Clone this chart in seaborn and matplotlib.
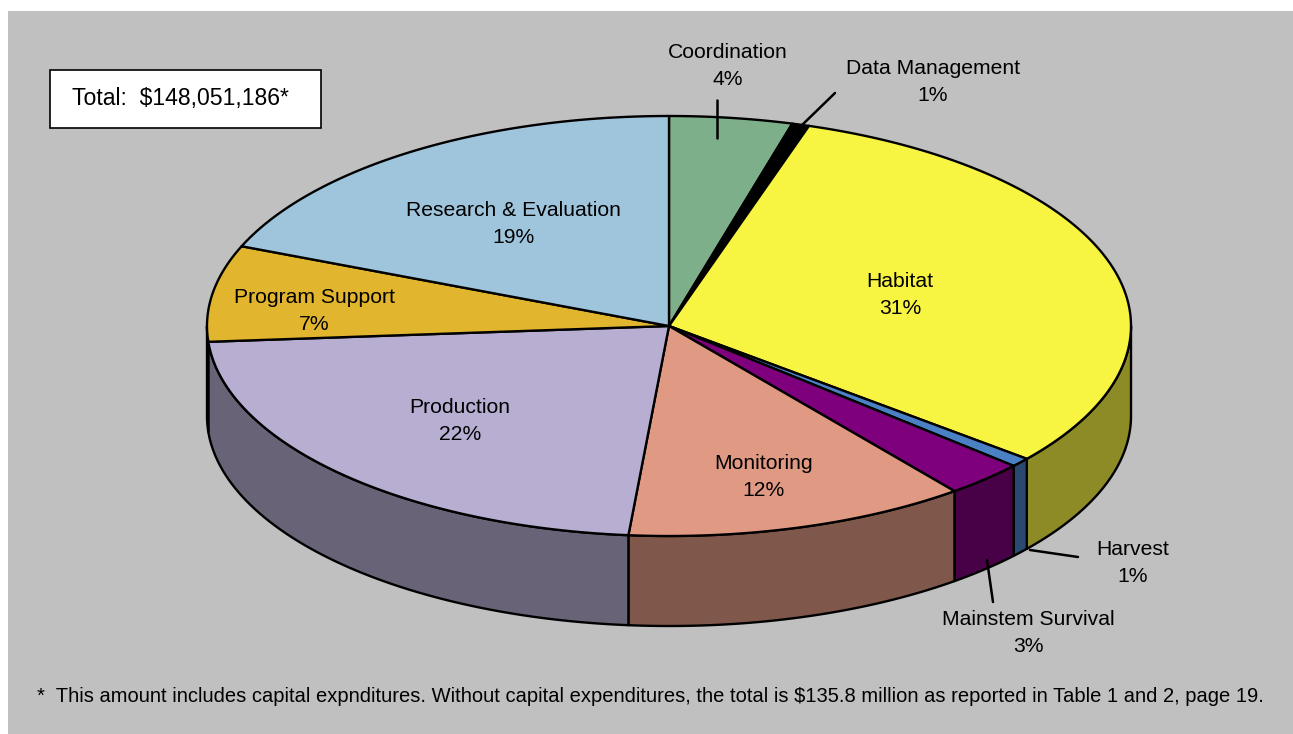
import numpy as np
import matplotlib
matplotlib.use("Agg")
import matplotlib.pyplot as plt
import seaborn as sns
from matplotlib.patches import Polygon, Rectangle

# budget shares (percent of total), clockwise from 12 o'clock
categories = ["Coordination", "Data Management", "Habitat", "Harvest",
              "Mainstem Survival", "Monitoring", "Production",
              "Program Support", "Research & Evaluation"]
shares = [4.3, 0.6, 31.0, 0.7, 2.8, 12.0, 22.4, 7.4, 18.8]
pct_labels = ["4%", "1%", "31%", "1%", "3%", "12%", "22%", "7%", "19%"]
colors = ["#7db08a", "#000000", "#f8f442", "#4a80c4", "#7e007c",
          "#e09a84", "#b8aed2", "#e2b52e", "#9fc5dd"]

total_text = "Total:  $148,051,186*"
footnote = ("*  This amount includes capital expnditures. Without capital expenditures, "
            "the total is $135.8 million as reported in Table 1 and 2, page 19.")

sns.set_theme(style="white")
plt.rcParams["font.family"] = ["Liberation Sans", "DejaVu Sans"]
plt.rcParams["text.color"] = "black"

fig = plt.figure(figsize=(12.93, 7.34), dpi=100, facecolor="white")
ax = fig.add_axes([0, 0, 1, 1])
ax.set_xlim(0, 1293)
ax.set_ylim(734, 0)
ax.axis("off")

ax.add_patch(Rectangle((8, 11), 1285, 723, facecolor="#c0c0c0", edgecolor="none", zorder=0))

cx, cy, a, b, depth = 669, 326, 462, 210, 90


def rim(t1, t2, y0=0.0, n=200):
    t = np.radians(np.linspace(t1, t2, n))
    return np.column_stack([cx + a * np.sin(t), cy + y0 - b * np.cos(t)])


def darker(c, f=0.57):
    r, g, bl = matplotlib.colors.to_rgb(c)
    return (r * f, g * f, bl * f)


edges = np.concatenate([[0], np.cumsum(shares) / sum(shares) * 360])

# side walls (front half only)
for i in range(len(shares)):
    t1, t2 = max(edges[i], 90), min(edges[i + 1], 270)
    if t2 <= t1:
        continue
    top = rim(t1, t2)
    bot = rim(t2, t1, depth)
    ax.add_patch(Polygon(np.vstack([top, bot]), closed=True,
                         facecolor=darker(colors[i]), edgecolor="black",
                         linewidth=1.7, joinstyle="round", zorder=1))

# top faces
for i in range(len(shares)):
    arc = rim(edges[i], edges[i + 1])
    pts = np.vstack([[cx, cy], arc])
    ax.add_patch(Polygon(pts, closed=True, facecolor=colors[i],
                         edgecolor="black", linewidth=1.7,
                         joinstyle="round", zorder=2))

fs = 15.2
inside = {
    "Research & Evaluation": (513, 224),
    "Habitat": (900, 295),
    "Program Support": (314, 311),
    "Production": (460, 421),
    "Monitoring": (764, 477),
}
outside = {
    "Coordination": ((728, 66), [(717, 100), (717, 138)]),
    "Data Management": ((933, 82), [(835, 93), (800, 127)]),
    "Harvest": ((1133, 563), [(1078, 557), (1030, 550)]),
    "Mainstem Survival": ((1028, 633), [(993, 602), (987, 560)]),
}

for cat, pct in zip(categories, pct_labels):
    if cat in inside:
        x, y = inside[cat]
        ax.text(x, y, f"{cat}\n{pct}", ha="center", va="center",
                fontsize=fs, linespacing=1.52, zorder=5)
    else:
        (x, y), line = outside[cat]
        ax.text(x, y, f"{cat}\n{pct}", ha="center", va="center",
                fontsize=fs, linespacing=1.52, zorder=5)
        ax.plot([line[0][0], line[1][0]], [line[0][1], line[1][1]],
                color="black", linewidth=1.8, zorder=4)

ax.add_patch(Rectangle((50, 70), 271, 58, facecolor="white",
                       edgecolor="black", linewidth=1.2, zorder=3))
ax.text(72, 99, total_text, ha="left", va="center", fontsize=16.6, zorder=5)

ax.text(37, 697, footnote, ha="left", va="center", fontsize=14.5, zorder=5)

fig.savefig("out.png", dpi=100, facecolor="white")
